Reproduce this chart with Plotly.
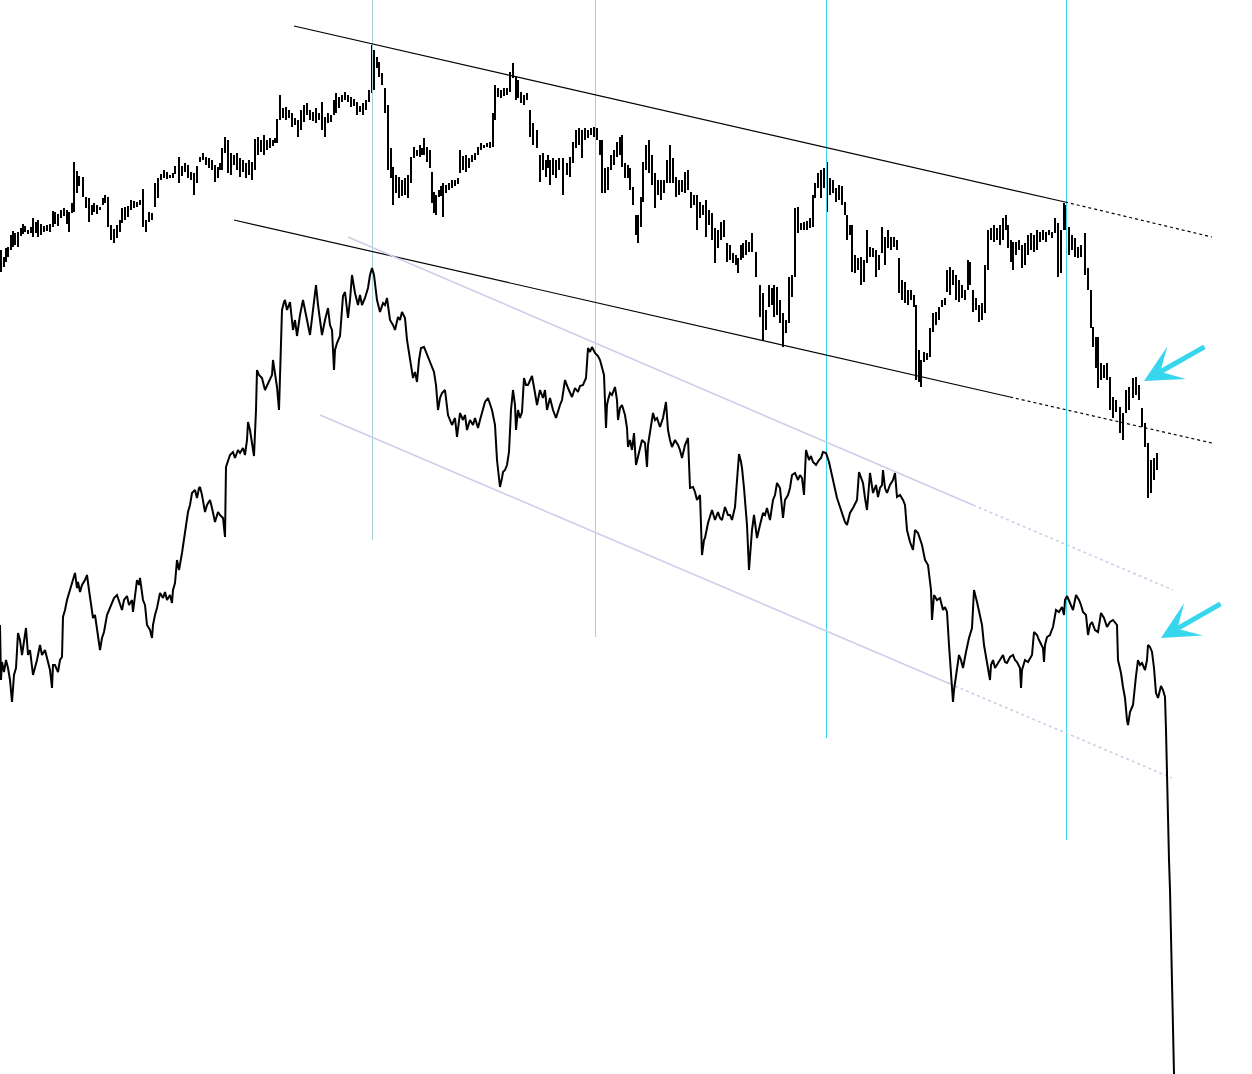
import plotly.graph_objects as go

# ---------------- top series: bars (x, upper end, lower end) in chart units (axis reversed) ----------------
top_x = [1, 4, 6, 8, 11, 13, 15, 18, 21, 23, 25, 28, 31, 33, 36, 38, 41, 44, 47, 50, 53, 55, 58, 61, 64, 67, 69, 72, 74, 77,
         79, 83, 86, 89, 92, 94, 97, 100, 103, 105, 108, 111, 114, 117, 120, 122, 125, 128, 131, 134, 137, 140, 143, 146, 149, 152, 155, 158, 161, 164,
         167, 170, 173, 175, 179, 182, 185, 188, 191, 194, 197, 200, 203, 206, 209, 212, 215, 218, 220, 222, 225, 228, 231, 234, 237, 240, 243, 246, 249, 252,
         255, 258, 261, 264, 267, 270, 273, 275, 277, 280, 283, 286, 289, 292, 295, 298, 301, 304, 307,
         310, 313, 316, 319, 322, 325, 328, 331, 334, 336, 339, 342, 345, 348, 351, 354, 357, 360, 363, 366, 369, 372, 374, 377, 379, 382, 385, 388, 391, 393,
         396, 399, 402, 405, 408, 411, 414, 417, 420, 422, 424, 427, 430, 432, 434, 436, 439, 441, 443, 446, 449, 452, 455, 458, 460, 463, 466, 469, 472, 475,
         478, 481, 484, 487, 490, 493, 495, 498, 501, 504, 507, 510, 513, 516, 518, 521, 524, 527, 530, 533, 537, 540, 543, 546, 548, 550, 553, 556, 559, 563,
         567, 570, 573, 576, 579, 582, 585, 588, 591, 594, 597, 600, 602, 605, 608,
         611, 614, 617, 620, 622, 625, 628, 630, 633, 636, 638, 641, 643, 646, 649, 652, 655, 658, 661, 664, 667, 670, 673, 676, 679, 682, 685, 688, 691, 694,
         697, 700, 703, 706, 709, 712, 715, 718, 721, 724, 727, 730, 733, 736, 738, 741, 743, 746, 749, 752, 756, 760, 763, 766, 769, 772, 774, 777, 780, 783,
         786, 789, 792, 795, 798, 801, 804, 807, 810, 813, 815, 818, 821, 824, 827, 830, 833, 836, 839, 842, 845, 847, 850, 852, 855, 858, 861, 864, 867, 870,
         873, 876, 879, 882, 885, 888, 891, 894, 897, 899, 902, 905, 908,
         911, 914, 916, 919, 921, 924, 927, 930, 933, 936, 939, 942, 945, 947, 950, 953, 956, 959, 962, 965, 968, 970, 973, 976, 979, 982, 985, 988, 991, 994,
         997, 1000, 1003, 1006, 1008, 1011, 1013, 1016, 1019, 1022, 1025, 1028, 1031, 1034, 1037, 1040, 1043, 1046, 1049, 1052, 1055, 1058, 1061, 1064, 1066, 1069, 1072, 1075, 1078, 1081,
         1085, 1088, 1091, 1093, 1096, 1098, 1101, 1104, 1107, 1110, 1113, 1116, 1120, 1123, 1126, 1129, 1133, 1136, 1139, 1142, 1145, 1148, 1151, 1154, 1157]
top_hi = [250, 257, 248, 247, 235, 231, 233, 232, 228, 224, 226, 230, 227, 218, 222, 220, 224, 226, 225, 224, 211, 212, 214, 210, 208, 210, 212, 203, 162, 171,
          176, 177, 197, 198, 205, 203, 205, 207, 198, 195, 197, 225, 229, 225, 220, 208, 207, 206, 200, 201, 202, 200, 189, 220, 212, 213, 183, 178, 174, 170,
          172, 175, 173, 166, 157, 166, 163, 165, 172, 173, 166, 157, 153, 157, 158, 160, 165, 167, 163, 148, 137, 140, 153, 155, 153, 158, 160, 163, 160, 162,
          139, 137, 140, 135, 140, 138, 140, 138, 119, 95, 108, 107, 110, 113, 118, 120, 110, 105, 103,
          110, 112, 108, 113, 102, 117, 113, 115, 100, 93, 97, 95, 92, 95, 97, 99, 102, 106, 103, 100, 90, 45, 50, 57, 62, 73, 88, 105, 148, 167,
          175, 177, 180, 178, 175, 157, 147, 150, 145, 148, 138, 147, 150, 172, 192, 195, 190, 186, 183, 185, 183, 180, 180, 178, 150, 156, 155, 158, 155, 153,
          147, 143, 145, 143, 142, 113, 85, 88, 90, 88, 88, 72, 63, 77, 80, 92, 95, 93, 110, 123, 130, 155, 153, 160, 155, 160, 158, 160, 158, 158,
          163, 157, 142, 130, 128, 130, 128, 130, 128, 127, 128, 140, 140, 168, 167,
          155, 150, 142, 137, 135, 163, 165, 168, 187, 215, 215, 197, 162, 145, 140, 155, 173, 180, 180, 180, 160, 145, 158, 177, 180, 180, 172, 170, 192, 195,
          195, 202, 205, 200, 210, 213, 228, 230, 222, 220, 243, 245, 253, 255, 258, 245, 243, 240, 242, 233, 252, 285, 293, 310, 285, 288, 285, 287, 300, 313,
          320, 277, 275, 208, 207, 223, 222, 221, 218, 195, 183, 173, 170, 168, 162, 178, 180, 188, 185, 186, 202, 215, 225, 225, 255, 258, 257, 260, 230, 247,
          248, 250, 255, 227, 237, 230, 237, 237, 240, 258, 280, 282, 290,
          290, 295, 305, 350, 360, 352, 353, 328, 313, 312, 307, 300, 298, 270, 267, 270, 275, 280, 285, 290, 260, 262, 290, 298, 305, 303, 265, 230, 228, 225,
          228, 225, 218, 215, 225, 240, 242, 242, 240, 245, 243, 235, 233, 235, 230, 232, 230, 232, 230, 232, 218, 223, 230, 203, 205, 227, 235, 238, 247, 245,
          233, 268, 290, 327, 337, 337, 363, 365, 363, 377, 397, 400, 407, 413, 390, 387, 378, 377, 385, 408, 423, 443, 460, 458, 453]
top_lo = [272, 267, 262, 257, 250, 247, 245, 247, 236, 234, 232, 234, 233, 237, 233, 237, 235, 232, 231, 232, 227, 224, 226, 218, 216, 224, 232, 213, 212, 193,
          186, 197, 208, 222, 215, 212, 214, 210, 205, 203, 227, 240, 243, 238, 232, 223, 220, 217, 210, 208, 207, 205, 227, 232, 222, 220, 207, 198, 180, 178,
          179, 178, 178, 174, 183, 176, 172, 178, 180, 195, 183, 162, 160, 165, 168, 170, 182, 178, 170, 170, 153, 173, 175, 165, 170, 177, 172, 178, 175, 180,
          170, 155, 152, 155, 150, 148, 146, 143, 143, 120, 118, 120, 118, 127, 125, 137, 130, 122, 115,
          120, 121, 123, 120, 130, 137, 123, 122, 115, 113, 108, 102, 100, 102, 107, 106, 115, 112, 115, 110, 102, 93, 90, 68, 77, 85, 113, 170, 178, 205,
          193, 198, 196, 195, 198, 183, 158, 156, 157, 155, 155, 162, 168, 203, 213, 215, 197, 196, 217, 193, 190, 188, 186, 184, 173, 170, 172, 168, 162, 160,
          155, 150, 148, 147, 148, 147, 120, 97, 98, 96, 95, 92, 78, 100, 98, 103, 105, 100, 137, 145, 148, 182, 170, 177, 168, 185, 175, 178, 170, 195,
          175, 177, 163, 148, 145, 158, 140, 138, 135, 137, 140, 155, 193, 193, 190,
          170, 165, 157, 155, 167, 178, 178, 190, 205, 235, 243, 227, 202, 170, 173, 185, 208, 195, 200, 193, 183, 183, 183, 197, 195, 192, 193, 190, 208, 205,
          230, 218, 215, 237, 225, 240, 263, 248, 240, 237, 262, 260, 263, 265, 273, 260, 258, 255, 252, 252, 277, 317, 340, 330, 307, 305, 317, 315, 323, 347,
          333, 323, 297, 277, 233, 230, 230, 230, 228, 227, 198, 188, 198, 188, 212, 195, 193, 202, 200, 205, 215, 240, 235, 272, 273, 270, 285, 282, 263, 257,
          257, 277, 270, 253, 265, 248, 250, 247, 250, 293, 300, 303, 305,
          300, 307, 380, 382, 387, 362, 360, 357, 332, 325, 320, 307, 305, 292, 295, 285, 300, 302, 298, 300, 290, 285, 312, 310, 322, 320, 313, 270, 240, 242,
          240, 245, 240, 230, 248, 262, 270, 255, 250, 268, 265, 255, 250, 252, 250, 242, 240, 242, 235, 238, 233, 277, 273, 230, 230, 255, 250, 257, 258, 257,
          275, 290, 328, 347, 368, 388, 380, 378, 380, 410, 418, 412, 433, 440, 413, 410, 398, 395, 400, 427, 447, 498, 493, 480, 470]

# ---------------- bottom series: line ----------------
bot_x = [0, 1, 2, 4, 6, 8, 10, 12, 14, 16, 18, 20, 22, 24, 26, 28, 30, 33, 35, 37, 40, 42, 45, 48, 50, 52, 53, 55, 58, 60,
         62, 63, 65, 67, 70, 72, 75, 77, 78, 80, 82, 85, 87, 89, 90, 93, 95, 97, 99, 100, 102, 104, 107, 109, 112, 114, 117, 119, 122, 124,
         127, 129, 132, 133, 135, 137, 139, 140, 143, 145, 147, 150, 152, 153, 155, 157, 160, 163, 165, 167, 170, 172, 173, 175, 177, 179, 182, 185, 188, 190,
         192, 195, 197, 199, 200, 202, 205, 207, 210, 212, 215, 218, 220, 223, 225, 226, 228, 230, 233, 235, 238, 240, 243, 245, 247, 248, 250, 252, 254, 256,
         257, 259, 262, 265, 268, 270, 272, 273, 275, 277, 279, 280, 282, 284, 285, 287, 290, 293, 295, 297, 300, 303, 305, 307, 310, 313, 316, 318, 320, 322,
         325, 328, 330, 332, 334, 335, 337, 340, 343, 345, 348, 350, 352, 355, 358, 360, 362, 365, 368, 370, 372, 374, 377, 380, 383, 385, 387, 390, 393, 395,
         398, 400, 402, 405, 407, 410, 413, 415, 417, 419, 421, 424, 427, 429, 431, 434, 436, 438, 440, 442, 445, 448, 450, 452, 455, 457, 460, 463, 465, 467,
         470, 473, 475, 478, 480, 482, 485, 488, 490, 492, 495, 497, 499, 500, 502, 503, 505, 507, 509, 511, 513, 515, 516, 518, 520, 522, 524, 526, 528, 530,
         532, 535, 537, 540, 543, 545, 547, 550, 553, 556, 558, 560, 562, 565, 568, 570, 572, 575, 578, 580, 583, 586, 588, 590, 592, 595, 598, 600, 602, 604,
         606, 607, 608, 610, 612, 615, 617, 618, 620, 622, 625, 627, 628, 630, 632, 634, 636, 639, 642, 645, 647, 648, 650, 653, 655, 657, 660, 663, 666, 668,
         670, 672, 675, 678, 680, 682, 685, 688, 690, 693, 695, 697, 700, 702, 704, 705, 708, 710, 712, 715, 718, 720, 722, 725, 728, 730, 732, 735, 737, 739,
         741, 742, 744, 747, 749, 750, 752, 754, 757, 760, 763, 765, 767, 770, 773, 775, 777, 780, 783, 785, 788, 790, 792, 795, 798, 800, 802, 804, 806, 809,
         811, 813, 816, 819, 821, 823, 826, 829, 832, 835, 837, 840, 843, 845, 847, 850, 853, 855, 857, 859, 861, 863, 865, 867, 870, 873, 876, 878, 880, 882,
         883, 885, 887, 890, 893, 895, 897, 900, 903, 905, 907, 910, 913, 915, 918, 920, 922, 925, 928, 931, 932, 934, 937, 940, 943, 945, 947, 949, 951, 953,
         954, 956, 959, 961, 963, 966, 969, 972, 974, 977, 979, 982, 984, 987, 990, 991, 993, 995, 997, 1000, 1003, 1005, 1007, 1010, 1013, 1015, 1017, 1020, 1021, 1022,
         1025, 1028, 1030, 1032, 1034, 1037, 1039, 1041, 1043, 1044, 1045, 1047, 1050, 1051, 1053, 1056, 1059, 1062, 1064, 1065, 1067, 1070, 1073, 1076, 1079, 1081, 1083, 1086, 1088, 1090,
         1092, 1095, 1098, 1101, 1104, 1107, 1110, 1113, 1117, 1118, 1121, 1123, 1125, 1127, 1128, 1130, 1133, 1136, 1138, 1140, 1142, 1145, 1147, 1148, 1150, 1152, 1154, 1156, 1158, 1160,
         1161, 1163, 1165, 1166, 1167, 1168, 1169, 1170, 1171, 1172, 1173, 1174]
bot_y = [625, 680, 662, 672, 660, 668, 680, 702, 675, 668, 633, 640, 655, 640, 628, 655, 650, 675, 668, 660, 645, 655, 650, 662, 670, 688, 665, 665, 672, 660,
         657, 617, 610, 600, 590, 585, 573, 588, 582, 592, 585, 580, 575, 590, 598, 618, 615, 628, 645, 650, 638, 632, 615, 610, 603, 598, 595, 602, 610, 600,
         596, 605, 600, 612, 598, 580, 585, 578, 600, 605, 625, 630, 638, 625, 615, 608, 593, 598, 592, 600, 595, 603, 590, 583, 560, 570, 553, 530, 512, 505,
         493, 490, 498, 488, 487, 495, 512, 505, 500, 508, 522, 512, 515, 518, 537, 467, 460, 455, 452, 458, 450, 453, 448, 455, 440, 422, 430, 443, 456, 410,
         370, 375, 378, 390, 383, 378, 375, 360, 372, 387, 410, 380, 310, 302, 300, 310, 302, 330, 320, 336, 315, 300, 310, 320, 335, 310, 285, 305, 320, 335,
         320, 308, 325, 330, 370, 350, 343, 336, 296, 292, 318, 300, 275, 293, 305, 295, 305, 298, 288, 275, 268, 275, 300, 312, 303, 305, 298, 320, 325, 330,
         317, 320, 312, 318, 340, 360, 378, 372, 382, 360, 348, 347, 355, 360, 365, 372, 385, 410, 398, 393, 390, 415, 420, 425, 418, 437, 413, 420, 415, 430,
         420, 425, 418, 428, 420, 412, 402, 398, 405, 410, 425, 460, 478, 487, 478, 472, 470, 465, 452, 410, 390, 405, 430, 410, 418, 412, 378, 385, 385, 380,
         376, 393, 405, 390, 398, 390, 410, 398, 410, 418, 410, 405, 400, 380, 388, 392, 397, 388, 392, 386, 385, 378, 348, 352, 347, 353, 356, 360, 367, 375,
         428, 405, 400, 393, 395, 387, 400, 420, 408, 405, 415, 428, 447, 440, 450, 433, 465, 452, 440, 443, 467, 445, 430, 413, 420, 418, 427, 418, 402, 430,
         440, 447, 440, 445, 450, 458, 445, 438, 488, 487, 492, 500, 495, 555, 540, 538, 523, 515, 510, 520, 512, 518, 520, 507, 515, 515, 520, 507, 482, 454,
         462, 468, 488, 525, 570, 555, 530, 515, 538, 525, 513, 515, 508, 520, 500, 495, 483, 488, 518, 500, 495, 488, 475, 473, 480, 475, 478, 495, 450, 460,
         456, 462, 465, 460, 458, 452, 453, 462, 475, 487, 498, 507, 517, 522, 525, 513, 508, 503, 500, 472, 478, 483, 498, 510, 473, 493, 485, 497, 488, 485,
         470, 488, 493, 485, 480, 473, 497, 495, 500, 505, 530, 542, 550, 530, 533, 540, 545, 560, 565, 590, 620, 595, 600, 598, 610, 607, 612, 645, 680, 702,
         690, 675, 655, 660, 668, 652, 638, 628, 590, 602, 612, 625, 645, 663, 680, 665, 660, 668, 665, 660, 655, 662, 663, 657, 655, 660, 662, 668, 688, 670,
         660, 662, 658, 655, 632, 635, 640, 645, 648, 662, 645, 637, 635, 632, 627, 610, 612, 607, 615, 600, 596, 603, 610, 595, 600, 605, 612, 615, 635, 625,
         622, 630, 632, 613, 618, 627, 622, 620, 625, 660, 673, 687, 698, 720, 725, 712, 705, 676, 660, 665, 663, 670, 660, 645, 647, 652, 668, 693, 698, 690,
         686, 690, 697, 730, 780, 810, 860, 890, 930, 980, 1020, 1074]

# ---------------- trend lines (solid part then dotted extension) ----------------
black_upper_x = [294, 1065, 1212]
black_upper_y = [26, 202, 237]
black_lower_x = [234, 1010, 1212]
black_lower_y = [220, 397, 443]
lav_upper_x = [348, 973, 1173]
lav_upper_y = [237, 505, 590]
lav_lower_x = [320, 955, 1172]
lav_lower_y = [415, 686, 778]

# ---------------- vertical markers ----------------
vline_x = [372, 595, 826, 1066]
vline_end = [540, 637, 738, 840]

# ---------------- arrows ----------------
arrow_tip_x = [1144, 1161]
arrow_tip_y = [381, 638]
arrow_tail_x = [1206, 1222]
arrow_tail_y = [346, 603]

CYAN = "#36d6ee"
LAV = "#cdcfe8"

fig = go.Figure()

# vertical lines
for i, (vx, ve) in enumerate(zip(vline_x, vline_end)):
    fig.add_trace(go.Scatter(x=[vx + 0.5, vx + 0.5], y=[0, ve], mode="lines",
                             line=dict(color=CYAN if i >= 2 else "#a9cfd8", width=1),
                             hoverinfo="skip"))

# trend lines
def channel(xs, ys, color, width):
    fig.add_trace(go.Scatter(x=xs[:2], y=ys[:2], mode="lines",
                             line=dict(color=color, width=width), hoverinfo="skip"))
    fig.add_trace(go.Scatter(x=xs[1:], y=ys[1:], mode="lines",
                             line=dict(color=color, width=width, dash="3px,3px"), hoverinfo="skip"))

channel(black_upper_x, black_upper_y, "#000000", 1.2)
channel(black_lower_x, black_lower_y, "#000000", 1.2)
channel(lav_upper_x, lav_upper_y, LAV, 1.6)
channel(lav_lower_x, lav_lower_y, LAV, 1.6)

# top bars
fig.add_trace(go.Bar(x=top_x, base=top_hi,
                     y=[lo - hi for hi, lo in zip(top_hi, top_lo)],
                     width=2.4, marker=dict(color="#000000", line=dict(width=0)),
                     hoverinfo="skip"))

# bottom line
fig.add_trace(go.Scatter(x=bot_x, y=bot_y, mode="lines",
                         line=dict(color="#000000", width=2.0), hoverinfo="skip"))

for tx, ty, ax, ay in zip(arrow_tip_x, arrow_tip_y, arrow_tail_x, arrow_tail_y):
    fig.add_annotation(x=tx, y=ty, ax=ax, ay=ay, xref="x", yref="y", axref="x", ayref="y",
                       text="", showarrow=True, arrowhead=3, arrowsize=1.25,
                       arrowwidth=5, arrowcolor=CYAN, standoff=0)

W, H = 1252, 1074
fig.update_layout(
    width=W, height=H,
    margin=dict(l=0, r=0, t=0, b=0),
    paper_bgcolor="white", plot_bgcolor="white",
    showlegend=False, bargap=0,
    xaxis=dict(range=[0, W], visible=False, fixedrange=True),
    yaxis=dict(range=[H, 0], visible=False, fixedrange=True),
)

fig.write_html("out.html", config={"displayModeBar": False},
               post_script="document.body.style.margin='0';document.body.style.overflow='hidden';")
